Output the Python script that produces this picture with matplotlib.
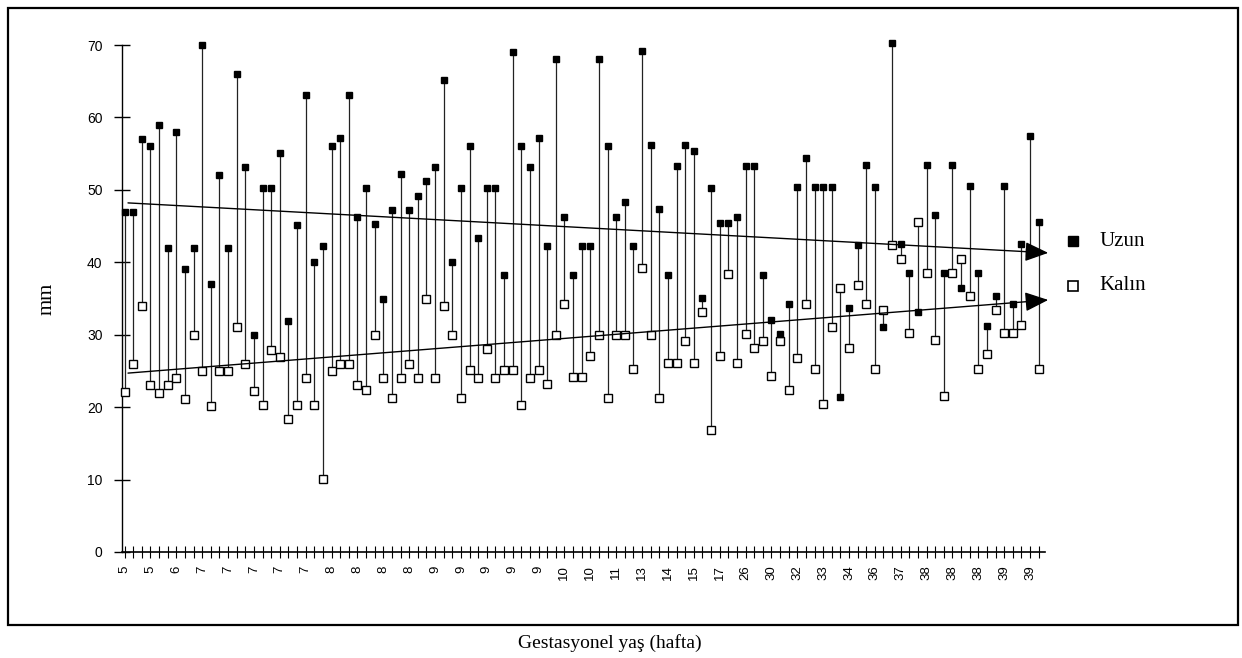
import matplotlib
matplotlib.use("Agg")
import matplotlib.pyplot as plt
import numpy as np
from matplotlib.lines import Line2D
from matplotlib.patches import Rectangle

# values (mm), one pair per case
uzun = [47.0, 47.0, 57.0, 56.0, 59.0, 42.0, 58.0, 39.1, 42.0, 70.0, 37.0, 52.0, 42.0, 66.0, 53.1, 29.9, 50.2, 50.2,
        55.1, 31.9, 45.2, 63.1, 40.1, 42.2, 56.0, 57.2, 63.1, 46.2, 50.3, 45.3, 35.0, 47.2, 52.2, 47.2, 49.2, 51.2,
        53.2, 65.1, 40.1, 50.3, 56.1, 43.3, 50.3, 50.3, 38.2, 69.0, 56.1, 53.2, 57.2, 42.2, 68.0, 46.3, 38.2,
        42.2, 42.2, 68.0, 56.1, 46.3, 48.3, 42.2, 69.2, 56.2, 47.3, 38.3, 53.3, 56.2, 55.3, 35.1, 50.3, 45.4, 45.4,
        46.2, 53.3, 53.3, 38.3, 32.1, 30.1, 34.2, 50.4, 54.4, 50.4, 50.4, 50.4, 21.4, 33.7, 42.4, 53.4, 50.4,
        31.1, 70.3, 42.5, 38.5, 33.2, 53.4, 46.5, 38.5, 53.4, 36.4, 50.5, 38.5, 31.2, 35.3, 50.5, 34.3, 42.5, 57.4, 45.5]
kalin = [22.1, 25.9, 33.9, 23.0, 21.9, 23.0, 24.0, 21.1, 29.9, 25.0, 20.2, 25.0, 25.0, 31.0, 26.0, 22.2, 20.3, 27.9,
         26.9, 18.3, 20.3, 24.0, 20.3, 10.1, 25.0, 26.0, 26.0, 23.1, 22.3, 29.9, 24.0, 21.2, 24.0, 26.0, 24.0, 35.0,
         24.0, 34.0, 30.0, 21.2, 25.1, 24.0, 28.0, 24.0, 25.1, 25.1, 20.3, 24.0, 25.1, 23.2, 30.0, 34.2, 24.1,
         24.1, 27.1, 30.0, 21.2, 30.0, 30.0, 25.2, 39.2, 30.0, 21.2, 26.1, 26.1, 29.2, 26.1, 33.1, 16.9, 27.1, 38.4,
         26.1, 30.1, 28.1, 29.2, 24.3, 29.2, 22.3, 26.8, 34.2, 25.2, 20.4, 31.1, 36.4, 28.1, 36.8, 34.2, 25.3,
         33.4, 42.4, 40.4, 30.2, 45.5, 38.5, 29.3, 21.5, 38.5, 40.5, 35.3, 25.3, 27.3, 33.4, 30.3, 30.3, 31.3, 41.4, 25.3]

# gestational week, printed under every third case
week_labels = ["5", "5", "6", "7", "7", "7", "7", "7", "8", "8", "8", "8", "9", "9", "9", "9", "9", "10",
               "10", "11", "13", "14", "15", "17", "26", "30", "32", "33", "34", "36", "37", "38", "38", "38",
               "39", "39"]

# trend lines as drawn (start / end value)
trend_x = [0.4, 107.1]
trend_uzun = [48.2, 41.3]
trend_kalin = [24.7, 34.8]

serif = "Liberation Serif"
sans = "Liberation Sans"

fig = plt.figure(figsize=(12.42, 6.58), dpi=100)
ax = fig.add_axes([0.0982, 0.1611, 0.743, 0.7705])

x = np.arange(len(uzun))
lo = np.minimum(uzun, kalin)
hi = np.maximum(uzun, kalin)

ax.vlines(x, lo, hi, color="#222222", lw=0.9, zorder=2)
ax.plot(x, kalin, "s", ms=6.3, mfc="white", mec="black", mew=1.0, ls="none", zorder=4, clip_on=False)
ax.plot(x, uzun, "s", ms=5, mfc="black", mec="black", ls="none", zorder=5, clip_on=False)

# trend arrows
for ys in (trend_uzun, trend_kalin):
    ax.annotate("", xy=(trend_x[1], ys[1]), xytext=(trend_x[0], ys[0]),
                arrowprops=dict(arrowstyle="-|>,head_length=1.2,head_width=0.5", color="black",
                                lw=1.0, shrinkA=0, shrinkB=0, mutation_scale=12),
                annotation_clip=False, zorder=6)

ax.set_xlim(-0.3, 106.7)
ax.set_ylim(0, 70)

for s in ["top", "right"]:
    ax.spines[s].set_visible(False)
ax.spines["left"].set_linewidth(1.0)
ax.spines["bottom"].set_linewidth(1.2)

ax.set_yticks(np.arange(0, 71, 10))
ax.tick_params(axis="y", direction="inout", length=12, width=1, labelsize=10, pad=8)
for lab in ax.get_yticklabels():
    lab.set_fontfamily(sans)

ax.set_xticks(np.arange(0, 3 * len(week_labels), 3))
ax.set_xticklabels(week_labels, rotation=90, fontsize=9.5, fontfamily=sans)
ax.set_xticks(x, minor=True)
ax.tick_params(axis="x", which="both", direction="inout", length=9, width=0.8, pad=5)

ax.set_ylabel("mm", fontsize=15, fontfamily=serif, labelpad=22)
fig.text(0.491, 1 - 643 / 658, "Gestasyonel yaş (hafta)", ha="center", va="center", fontsize=14, fontfamily=serif)

# legend on the right
fig.add_artist(Line2D([1073 / 1242], [1 - 241 / 658], marker="s", ms=7, mfc="black", mec="black",
                      transform=fig.transFigure))
fig.add_artist(Line2D([1073 / 1242], [1 - 286 / 658], marker="s", ms=6.5, mfc="white", mec="black", mew=1.2,
                      transform=fig.transFigure))
fig.text(1099 / 1242, 1 - 241 / 658, "Uzun", va="center", fontsize=15, fontfamily=serif)
fig.text(1099 / 1242, 1 - 286 / 658, "Kalın", va="center", fontsize=15, fontfamily=serif)

# frame around the figure
fig.add_artist(Rectangle((8 / 1242, 1 - 625 / 658), (1238 - 8) / 1242, (625 - 8) / 658,
                         fill=False, lw=1.6, ec="black", transform=fig.transFigure))

fig.savefig("out.png", dpi=100)
